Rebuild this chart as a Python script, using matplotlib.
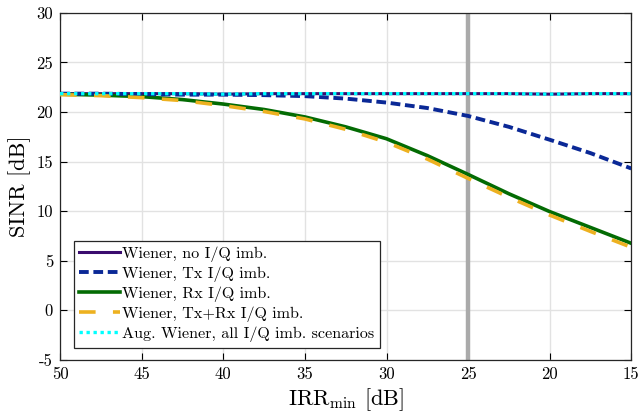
import matplotlib
matplotlib.use('Agg')
import matplotlib.pyplot as plt

plt.rcParams['font.family'] = 'serif'
plt.rcParams['font.serif'] = ['cmr10', 'DejaVu Serif']
plt.rcParams['mathtext.fontset'] = 'cm'
plt.rcParams['axes.unicode_minus'] = False
plt.rcParams['axes.formatter.use_mathtext'] = False

# IRR_min in dB (axis runs from 50 down to 15)
irr = [50, 47.5, 45, 42.5, 40, 37.5, 35, 32.5, 30, 27.5, 25, 22.5, 20, 17.5, 15]

sinr_none = [21.85, 21.85, 21.85, 21.85, 21.8, 21.85, 21.85, 21.85, 21.85, 21.85, 21.85, 21.85, 21.8, 21.85, 21.85]
sinr_tx = [21.85, 21.85, 21.8, 21.75, 21.75, 21.7, 21.6, 21.35, 20.95, 20.4, 19.6, 18.5, 17.2, 15.85, 14.3]
sinr_rx = [21.8, 21.7, 21.55, 21.25, 20.8, 20.25, 19.5, 18.5, 17.3, 15.6, 13.7, 11.75, 9.95, 8.35, 6.75]
sinr_txrx = [21.75, 21.65, 21.45, 21.15, 20.65, 20.05, 19.3, 18.25, 16.95, 15.25, 13.3, 11.4, 9.6, 7.95, 6.35]
sinr_aug = [21.85, 21.85, 21.85, 21.85, 21.8, 21.85, 21.85, 21.85, 21.85, 21.85, 21.85, 21.85, 21.8, 21.85, 21.85]

labels = ['Wiener, no I/Q imb.', 'Wiener, Tx I/Q imb.', 'Wiener, Rx I/Q imb.',
          'Wiener, Tx+Rx I/Q imb.', 'Aug. Wiener, all I/Q imb. scenarios']
xticks = [50, 45, 40, 35, 30, 25, 20, 15]
yticks = [-5, 0, 5, 10, 15, 20, 25, 30]
irr_marker = 25

fig = plt.figure(figsize=(6.39, 4.15), dpi=100)
ax = fig.add_axes([0.094, 0.133, 0.894, 0.836])

ax.axvline(irr_marker, color='#aaaaaa', lw=3.2, zorder=1)
ax.plot(irr, sinr_none, color='#3a0c6e', lw=2.2, label=labels[0], zorder=3)
ax.plot(irr, sinr_tx, color='#0a2896', lw=2.8, dashes=(2.5, 1.2), label=labels[1], zorder=4)
ax.plot(irr, sinr_rx, color='#036b03', lw=2.6, label=labels[2], zorder=3)
ax.plot(irr, sinr_txrx, color='#edb120', lw=2.6, dashes=(4.6, 4.8), label=labels[3], zorder=4)
ax.plot(irr, sinr_aug, color='#00ffff', lw=2.4, dashes=(1.0, 1.1), label=labels[4], zorder=5)

ax.set_xlim(50, 15)
ax.set_ylim(-5, 30)
ax.set_xticks(xticks)
ax.set_yticks(yticks)
ax.tick_params(direction='in', top=True, right=True, labelsize=12, length=5, width=0.8, pad=5)
ax.grid(True, color='#e2e2e2', lw=1)
ax.set_axisbelow(True)
for s in ax.spines.values():
    s.set_linewidth(0.9)
    s.set_color('#262626')

ax.set_xlabel(r'IRR$_{\mathrm{min}}$ [dB]', fontsize=16, labelpad=3)
ax.set_ylabel('SINR [dB]', fontsize=16, labelpad=4)

leg = ax.legend(loc='lower left', bbox_to_anchor=(0.024, 0.035), fontsize=11.6, handlelength=2.5,
                handletextpad=0.15, labelspacing=0.28, borderpad=0.35, borderaxespad=0,
                fancybox=False, framealpha=1, edgecolor='#262626')
leg.get_frame().set_linewidth(0.9)

fig.savefig('out.png', dpi=100)
